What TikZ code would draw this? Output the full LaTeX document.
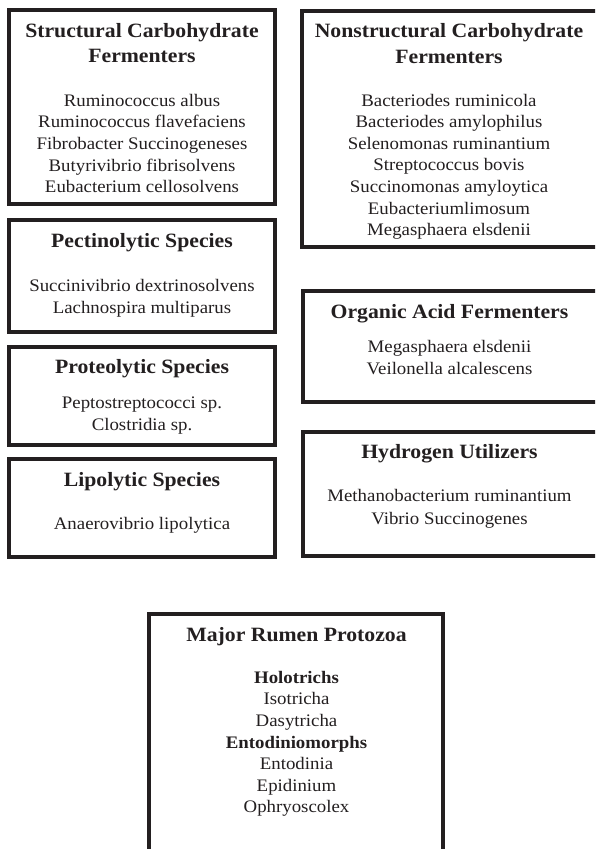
\documentclass[tikz,border=0pt]{standalone}
\usepackage{fontspec}
\setmainfont{Liberation Serif}[FakeStretch=1.07]
\definecolor{ink}{RGB}{35,31,32}
\begin{document}
\begin{tikzpicture}[x=1pt,y=-1pt,
  frame/.style={draw=ink,line width=3.8pt,inner sep=0pt,outer sep=0pt},
  head/.style={font=\fontsize{20.3}{24}\selectfont\bfseries,text=ink,anchor=base,inner sep=0pt},
  body/.style={font=\fontsize{17.6}{21.6}\selectfont,text=ink,anchor=base,inner sep=0pt},
  sub/.style={font=\fontsize{17.6}{21.6}\selectfont\bfseries,text=ink,anchor=base,inner sep=0pt}]
\useasboundingbox (0,0) rectangle (595,849);
\clip (0,0) rectangle (595,849);
\fill[white] (0,0) rectangle (595,849);
% frames
\node[frame,minimum width=266pt,minimum height=194pt] (b1) at (142,107) {};
\node[frame,minimum width=298pt,minimum height=236pt] (b2) at (451,129) {};
\node[frame,minimum width=266pt,minimum height=112pt] (b3) at (142,276) {};
\node[frame,minimum width=266pt,minimum height=98pt] (b4) at (142,396) {};
\node[frame,minimum width=266pt,minimum height=98pt] (b5) at (142,508) {};
\node[frame,minimum width=297pt,minimum height=111pt] (b6) at (451.5,346.5) {};
\node[frame,minimum width=297pt,minimum height=124pt] (b7) at (451.5,494) {};
\node[frame,minimum width=294pt,minimum height=246pt] (b8) at (296,737) {};
% box 1
\node[head] (h1a) at (142,37.7) {Structural Carbohydrate};
\node[head] (h1b) at (142,62.7) {Fermenters};
\foreach \t [count=\i from 0] in {Ruminococcus albus,Ruminococcus flavefaciens,Fibrobacter Succinogeneses,Butyrivibrio fibrisolvens,Eubacterium cellosolvens}
  \node[body] (t1l\i) at (142,{106+21.67*\i}) {\t};
% box 2
\node[head] (h2a) at (449,37.7) {Nonstructural Carbohydrate};
\node[head] (h2b) at (449,63) {Fermenters};
\foreach \t [count=\i from 0] in {Bacteriodes ruminicola,Bacteriodes amylophilus,Selenomonas ruminantium,Streptococcus bovis,Succinomonas amyloytica,Eubacteriumlimosum,Megasphaera elsdenii}
  \node[body] (t2l\i) at (449,{106+21.6*\i}) {\t};
% box 3
\node[head] (h3) at (142,247.3) {Pectinolytic Species};
\node[body] (t3a) at (142,291.7) {Succinivibrio dextrinosolvens};
\node[body] (t3b) at (142,313.3) {Lachnospira multiparus};
% box 4
\node[head] (h4) at (142,373) {Proteolytic Species};
\node[body] (t4a) at (142,408.5) {Peptostreptococci sp.};
\node[body] (t4b) at (142,430.5) {Clostridia sp.};
% box 5
\node[head] (h5) at (142,486) {Lipolytic Species};
\node[body] (t5a) at (142,529) {Anaerovibrio lipolytica};
% box 6
\node[head] (h6) at (449.5,318.3) {Organic Acid Fermenters};
\node[body] (t6a) at (449.5,352.7) {Megasphaera elsdenii};
\node[body] (t6b) at (449.5,374) {Veilonella alcalescens};
% box 7
\node[head] (h7) at (449.5,458.3) {Hydrogen Utilizers};
\node[body] (t7a) at (449.5,501.7) {Methanobacterium ruminantium};
\node[body] (t7b) at (449.5,524) {Vibrio Succinogenes};
% box 8
\node[head] (h8) at (296.5,641) {Major Rumen Protozoa};
\node[sub]  (t8a) at (296.5,683.3) {Holotrichs};
\node[body] (t8b) at (296.5,704.9) {Isotricha};
\node[body] (t8c) at (296.5,726.5) {Dasytricha};
\node[sub]  (t8d) at (296.5,748.1) {Entodiniomorphs};
\node[body] (t8e) at (296.5,769.7) {Entodinia};
\node[body] (t8f) at (296.5,791.3) {Epidinium};
\node[body] (t8g) at (296.5,812.9) {Ophryoscolex};
\end{tikzpicture}
\end{document}
